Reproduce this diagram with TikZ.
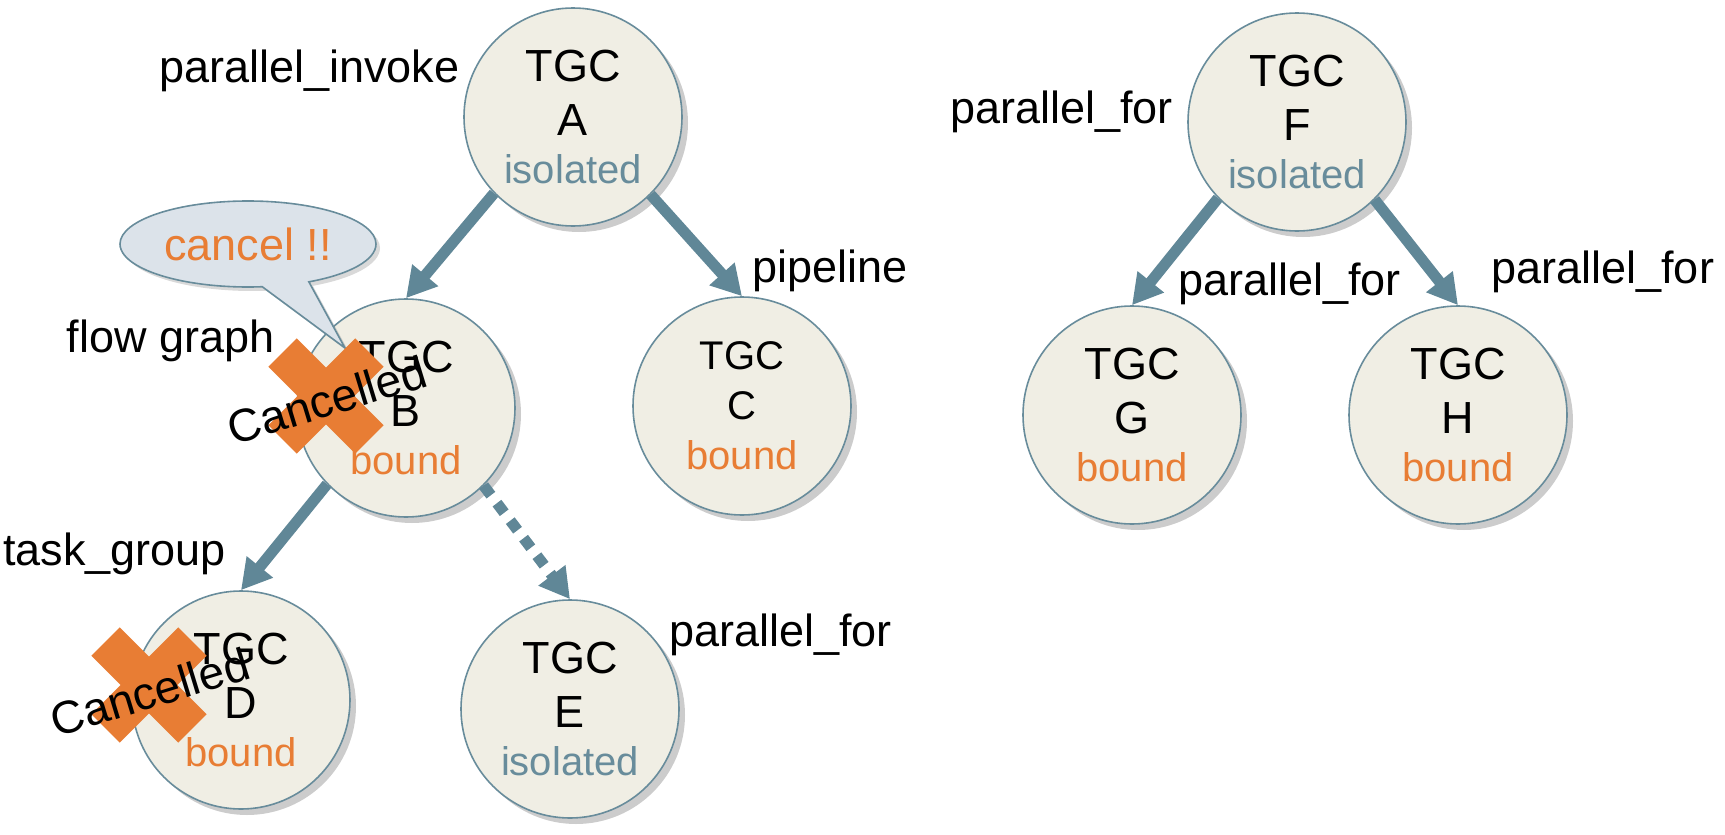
\documentclass[tikz,border=0pt]{standalone}
\usepackage{fontspec}
\setmainfont{Liberation Sans}
\usetikzlibrary{arrows.meta,shadows,shapes.callouts}
\definecolor{nodefill}{RGB}{240,238,228}
\definecolor{edgeblue}{RGB}{96,135,151}
\definecolor{isoc}{RGB}{104,140,155}
\definecolor{orng}{RGB}{232,125,52}
\definecolor{callfill}{RGB}{220,227,234}
\newcommand\bigsz{\fontsize{22.5pt}{27pt}\selectfont}
\newcommand\smsz{\fontsize{20pt}{25pt}\selectfont}
\begin{document}
\begin{tikzpicture}[x=0.5pt,y=-0.5pt,
  tgc/.style={circle, draw=isoc, line width=0.8pt, fill=nodefill, minimum size=109pt,
    inner sep=0pt, align=center, font=\bigsz,
    drop shadow={opacity=0.4, shadow xshift=3pt, shadow yshift=-3pt}},
  conn/.style={draw=edgeblue, line width=5.5pt, -{Triangle[length=15pt,width=16pt]}},
  lbl/.style={font=\bigsz, inner sep=0pt},
  xbar/.style={fill=orng, minimum width=61.5pt, minimum height=20pt, inner sep=0pt},
  cnl/.style={font={\fontsize{23pt}{27pt}\selectfont}, inner sep=0pt, rotate=17}]
\useasboundingbox (0,0) rectangle (1725,835);

% task group context nodes
\node[tgc] (A) at (573,117) {TGC\\A\\[-3pt]\textcolor{isoc}{\smsz isolated}};
\node[tgc] (B) at (406,408) {TGC\\B\\[-3pt]\textcolor{orng}{\smsz bound}};
\node[tgc, font=\smsz] (C) at (742,406) {TGC\\C\\\textcolor{orng}{bound}};
\node[tgc] (D) at (241,700) {TGC\\D\\[-3pt]\textcolor{orng}{\smsz bound}};
\node[tgc] (E) at (570,709) {TGC\\E\\[-3pt]\textcolor{isoc}{\smsz isolated}};
\node[tgc] (F) at (1297,122) {TGC\\F\\[-3pt]\textcolor{isoc}{\smsz isolated}};
\node[tgc] (G) at (1132,415) {TGC\\G\\[-3pt]\textcolor{orng}{\smsz bound}};
\node[tgc] (H) at (1458,415) {TGC\\H\\[-3pt]\textcolor{orng}{\smsz bound}};

% connectors
\draw[conn] (A.224) -- (B.north);
\draw[conn] (A.315) -- (C.north);
\draw[conn] (B.224) -- (D.north);
\draw[conn, dash pattern=on 6pt off 5pt] (B.315) -- (E.north);
\draw[conn] (F.224) -- (G.north);
\draw[conn] (F.315) -- (H.north);

% labels
\node[lbl, anchor=base east] (lpi) at (460,82) {parallel\_invoke};
\node[lbl, anchor=base west] (lpl) at (752,282) {pipeline};
\node[lbl, anchor=base east] (lfg) at (275,352) {flow graph};
\node[lbl, anchor=base west] (ltg) at (3,565) {task\_group};
\node[lbl, anchor=base west] (lpe) at (669,646) {parallel\_for};
\node[lbl, anchor=base west] (lpf) at (950,123) {parallel\_for};
\node[lbl, anchor=base west] (lpg) at (1178,295) {parallel\_for};
\node[lbl, anchor=base west] (lph) at (1491,283) {parallel\_for};

% callout
\node[ellipse callout, draw=isoc, line width=0.8pt, fill=callfill, minimum width=128pt,
  minimum height=43pt, inner sep=0pt, callout absolute pointer={(345,348)},
  callout pointer arc=22, font=\bigsz,
  drop shadow={opacity=0.3, shadow xshift=2pt, shadow yshift=-2pt}] (call) at (248,244)
  {\textcolor{orng}{cancel !!}};

% cancel crosses
\node[xbar, rotate=45] (xb1) at (326,396) {};
\node[xbar, rotate=-45] (xb2) at (326,396) {};
\node[cnl] (cb) at (327,400) {Cancelled};
\node[xbar, rotate=45] (xd1) at (149,685) {};
\node[xbar, rotate=-45] (xd2) at (149,685) {};
\node[cnl] (cd) at (150,692) {Cancelled};
\end{tikzpicture}
\end{document}
